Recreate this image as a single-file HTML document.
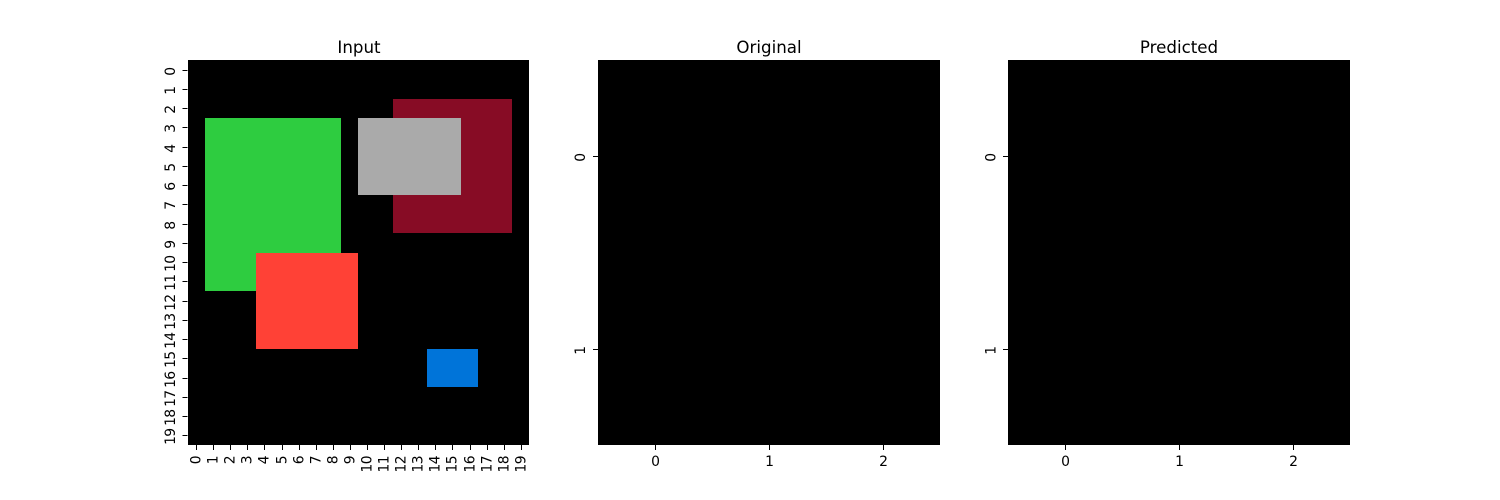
<!DOCTYPE html>
<html lang="en">
<head>
<meta charset="utf-8">
<title>Input, Original and Predicted heatmaps</title>
<style>
  html, body { margin: 0; padding: 0; background: #fff; }
  svg { display: block; }
  text { font-family: "DejaVu Sans", "Liberation Sans", sans-serif; fill: #000; }
  .title { font-size: 16.67px; text-anchor: middle; }
  .tick-label { font-size: 13.89px; }
  .tight { letter-spacing: -0.6px; }
  .tick { stroke: #000; stroke-width: 1; shape-rendering: crispEdges; }
  .cell { shape-rendering: crispEdges; }
</style>
</head>
<body>
<svg id="figure" xmlns="http://www.w3.org/2000/svg" width="1500" height="500" viewBox="0 0 1500 500">
  <rect x="0" y="0" width="1500" height="500" fill="#ffffff"></rect>
  <g id="panel-input">
    <text class="title" x="359" y="53">Input</text>
  </g>
  <g id="panel-original">
    <text class="title" x="769" y="53">Original</text>
  </g>
  <g id="panel-predicted">
    <text class="title" x="1179" y="53">Predicted</text>
  </g>
</svg>
<script>
// Heatmap values: one string per row, one digit per cell.
const inputGrid = [
  "00000000000000000000",
  "00000000000000000000",
  "00000000000099999990",
  "03333333305555559990",
  "03333333305555559990",
  "03333333305555559990",
  "03333333305555559990",
  "03333333300099999990",
  "03333333300099999990",
  "03333333300000000000",
  "03332222220000000000",
  "03332222220000000000",
  "00002222220000000000",
  "00002222220000000000",
  "00002222220000000000",
  "00000000000000111000",
  "00000000000000111000",
  "00000000000000000000",
  "00000000000000000000",
  "00000000000000000000"
];
const originalGrid = ["000", "000"];
const predictedGrid = ["000", "000"];

// Tick labels.
const inputXTicks = ["0","1","2","3","4","5","6","7","8","9","10","11","12","13","14","15","16","17","18","19"];
const inputYTicks = ["0","1","2","3","4","5","6","7","8","9","10","11","12","13","14","15","16","17","18","19"];
const originalXTicks = ["0","1","2"];
const originalYTicks = ["0","1"];
const predictedXTicks = ["0","1","2"];
const predictedYTicks = ["0","1"];

const SVG_NS = "http://www.w3.org/2000/svg";
const axTop = 60, axBottom = 445, axWidth = 341.9;
const tickLen = 5, tickPad = 5;

function colorScale(v) {
  switch (v) {
    case "1": return "#0074D9";
    case "2": return "#FF4136";
    case "3": return "#2ECC40";
    case "5": return "#AAAAAA";
    case "9": return "#870C25";
    default: return "#000000";
  }
}

function drawPanel(panelId, axLeft, grid, xTicks, yTicks, xRotated) {
  const panel = document.getElementById(panelId);
  const rows = grid.length;
  const cols = grid[0].length;
  const xScale = function (c) { return Math.round(axLeft + c * axWidth / cols); };
  const yScale = function (r) { return Math.round(axTop + r * (axBottom - axTop) / rows); };
  const xCenter = function (c) { return Math.round(axLeft + (c + 0.5) * axWidth / cols) + 0.5; };
  const yCenter = function (r) { return Math.round(axTop + (r + 0.5) * (axBottom - axTop) / rows) + 0.5; };

  grid.forEach(function (rowValues, r) {
    rowValues.split("").forEach(function (value, c) {
      const cell = document.createElementNS(SVG_NS, "rect");
      cell.setAttribute("class", "cell");
      
      
      cell.setAttribute("x", xScale(c));
      cell.setAttribute("y", yScale(r));
      cell.setAttribute("width", xScale(c + 1) - xScale(c));
      cell.setAttribute("height", yScale(r + 1) - yScale(r));
      cell.setAttribute("fill", colorScale(value));
      panel.appendChild(cell);
    });
  });

  xTicks.forEach(function (label, c) {
    const x = xCenter(c);
    const tick = document.createElementNS(SVG_NS, "line");
    tick.setAttribute("class", "tick");
    
    
    tick.setAttribute("x1", x);
    tick.setAttribute("x2", x);
    tick.setAttribute("y1", axBottom);
    tick.setAttribute("y2", axBottom + tickLen);
    panel.appendChild(tick);

    const text = document.createElementNS(SVG_NS, "text");
    
    
    text.textContent = label;
    if (xRotated) {
      text.setAttribute("class", "tick-label tight");
      text.setAttribute("text-anchor", "end");
      text.setAttribute("transform", "translate(" + (x + 4) + "," + (axBottom + tickLen + tickPad + 1) + ") rotate(-90)");
    } else {
      text.setAttribute("class", "tick-label");
      text.setAttribute("text-anchor", "middle");
      text.setAttribute("x", x);
      text.setAttribute("y", axBottom + tickLen + tickPad + 11);
    }
    panel.appendChild(text);
  });

  yTicks.forEach(function (label, r) {
    const y = yCenter(r);
    const tick = document.createElementNS(SVG_NS, "line");
    tick.setAttribute("class", "tick");
    
    
    tick.setAttribute("x1", axLeft - tickLen);
    tick.setAttribute("x2", axLeft);
    tick.setAttribute("y1", y);
    tick.setAttribute("y2", y);
    panel.appendChild(tick);

    const text = document.createElementNS(SVG_NS, "text");
    text.setAttribute("class", "tick-label tight");
    
    
    text.setAttribute("text-anchor", "middle");
    text.setAttribute("transform", "translate(" + (axLeft - tickLen - tickPad - 2.7) + "," + (y + 1.2) + ") rotate(-90)");
    text.textContent = label;
    panel.appendChild(text);
  });
}

drawPanel("panel-input", 187.5, inputGrid, inputXTicks, inputYTicks, true);
drawPanel("panel-original", 597.9, originalGrid, originalXTicks, originalYTicks, false);
drawPanel("panel-predicted", 1008.1, predictedGrid, predictedXTicks, predictedYTicks, false);
</script>
</body>
</html>
